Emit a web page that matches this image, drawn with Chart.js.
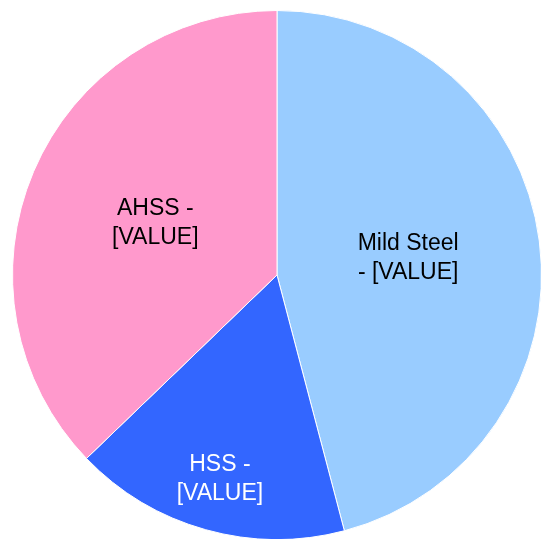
<!DOCTYPE html>
<html>
<head>
<meta charset="utf-8">
<script src="https://cdn.jsdelivr.net/npm/chart.js@4"></script>
<style>
  html, body { margin: 0; padding: 0; background: #fff; overflow: hidden; width: 541px; height: 539px; }
  #wrap { position: absolute; left: 12px; top: 10px; width: 530px; height: 530px; }
</style>
</head>
<body>
<div id="wrap"><canvas id="pieChart"></canvas></div>
<script>
// steel grades and their share
const categories = ['Mild Steel', 'HSS', 'AHSS'];
const shares = [45.9, 16.9, 37.2];
const labelTexts = [['Mild Steel', '- [VALUE]'], ['HSS -', '[VALUE]'], ['AHSS -', '[VALUE]']];

const sliceColors = ['#99CCFF', '#3366FF', '#FF99CC'];
const textColors = ['#000000', '#ffffff', '#000000'];
const labelRadius = [0.5, 0.8, 0.5];

// draws the labels inside each slice
const sliceLabels = {
    id: 'sliceLabels',
    afterDatasetsDraw(chart) {
        const ctx = chart.ctx;
        const meta = chart.getDatasetMeta(0);
        ctx.save();
        ctx.font = '23px "Liberation Sans", Arial, sans-serif';
        ctx.textAlign = 'center';
        ctx.textBaseline = 'middle';
        meta.data.forEach((arc, i) => {
            const mid = (arc.startAngle + arc.endAngle) / 2;
            const r = arc.outerRadius * labelRadius[i];
            const x = arc.x + Math.cos(mid) * r;
            const y = arc.y + Math.sin(mid) * r;
            const lines = labelTexts[i];
            ctx.fillStyle = textColors[i];
            lines.forEach((line, j) => {
                ctx.fillText(line, x, y + (j - (lines.length - 1) / 2) * 29);
            });
        });
        ctx.restore();
    }
};

new Chart(document.getElementById('pieChart').getContext('2d'), {
    type: 'pie',
    data: {
        labels: categories,
        datasets: [{
            data: shares,
            backgroundColor: sliceColors,
            borderColor: '#ffffff',
            borderWidth: 1
        }]
    },
    options: {
        responsive: true,
        maintainAspectRatio: false,
        animation: false,
        layout: { padding: 0 },
        plugins: {
            legend: { display: false },
            tooltip: { enabled: false }
        }
    },
    plugins: [sliceLabels]
});
</script>
</body>
</html>
